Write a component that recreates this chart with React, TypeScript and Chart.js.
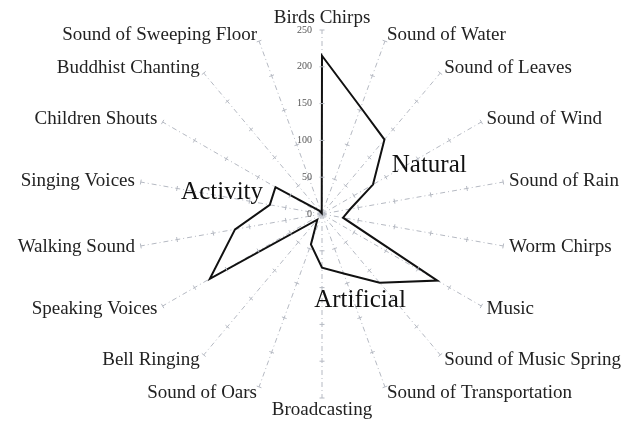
import React, { useEffect, useRef } from "react";
import { Chart, registerables } from "chart.js";

Chart.register(...registerables);

const categories = [
  "Birds Chirps",
  "Sound of Water",
  "Sound of Leaves",
  "Sound of Wind",
  "Sound of Rain",
  "Worm Chirps",
  "Music",
  "Sound of Music Spring",
  "Sound of Transportation",
  "Broadcasting",
  "Sound of Oars",
  "Bell Ringing",
  "Speaking Voices",
  "Walking Sound",
  "Singing Voices",
  "Children Shouts",
  "Buddhist Chanting",
  "Sound of Sweeping Floor",
];

const values = [215, 154, 132, 80, 39, 29, 181, 122, 86, 73, 44, 10, 176, 120, 72, 73, 6, 1];

const tickValues = [0, 50, 100, 150, 200, 250];

const groupLabels = ["Natural", "Artificial", "Activity"];
const groupIndexPos = [3.28, 7.81, 14.12];
const groupValuePos = [160, 128, 139];

// segments (by starting point index) drawn with a heavier stroke
const heavySegments = [2, 3, 4, 11];
const mediumSegments = [6];

const SERIF = "'Liberation Serif', 'Times New Roman', serif";

const labelPlugin = {
  id: "customLabels",
  afterDraw(chart: any) {
    const scale = chart.scales.r;
    const ctx = chart.ctx;
    const cx = scale.xCenter;
    const cy = scale.yCenter;
    const outer = scale.getDistanceFromCenterForValue(scale.max);
    ctx.save();

    // small cross ticks on each spoke
    ctx.strokeStyle = "#b5b9c2";
    ctx.lineWidth = 1;
    ctx.setLineDash([]);
    for (let i = 0; i < categories.length; i++) {
      for (const v of tickValues) {
        if (v === 0) continue;
        const d = scale.getDistanceFromCenterForValue(v);
        const p = scale.getPointPosition(i, d);
        const ang = p.angle;
        const nx = -Math.sin(ang);
        const ny = Math.cos(ang);
        ctx.beginPath();
        ctx.moveTo(p.x - nx * 2.5, p.y - ny * 2.5);
        ctx.lineTo(p.x + nx * 2.5, p.y + ny * 2.5);
        ctx.stroke();
      }
    }

    // tick labels along vertical axis
    ctx.fillStyle = "#555";
    ctx.font = `10px ${SERIF}`;
    ctx.textAlign = "right";
    ctx.textBaseline = "middle";
    for (const v of tickValues) {
      const d = scale.getDistanceFromCenterForValue(v);
      ctx.fillText(String(v), cx - 10, cy - d);
    }

    // point labels
    ctx.fillStyle = "#222";
    ctx.font = `19px ${SERIF}`;
    ctx.textBaseline = "middle";
    const n = categories.length;
    for (let i = 0; i < n; i++) {
      const deg = (i * 360) / n;
      let dist = outer + 6;
      let align: CanvasTextAlign = "left";
      if (deg === 0 || deg === 180) {
        dist = outer + 12;
        align = "center";
      } else if (deg > 180) {
        align = "right";
      }
      const p = scale.getPointPosition(i, dist);
      ctx.textAlign = align;
      ctx.fillText(categories[i], p.x, p.y);
    }

    // group annotations
    ctx.fillStyle = "#111";
    ctx.font = `25px ${SERIF}`;
    ctx.textAlign = "center";
    ctx.textBaseline = "middle";
    for (let g = 0; g < groupLabels.length; g++) {
      const p = scale.getPointPosition(
        groupIndexPos[g],
        scale.getDistanceFromCenterForValue(groupValuePos[g])
      );
      ctx.fillText(groupLabels[g], p.x, p.y);
    }
    ctx.restore();
  },
};

export default function App() {
  const canvasRef = useRef<HTMLCanvasElement | null>(null);

  useEffect(() => {
    document.body.style.margin = "0";
    document.body.style.overflow = "hidden";
    if (!canvasRef.current) return;
    const chart = new Chart(canvasRef.current, {
      type: "radar",
      data: {
        labels: categories,
        datasets: [
          {
            data: values,
            borderColor: "#111",
            borderWidth: 2,
            backgroundColor: "transparent",
            fill: false,
            pointRadius: 0,
            pointHoverRadius: 0,
            tension: 0,
            segment: {
              borderWidth: (ctx: any) =>
                heavySegments.includes(ctx.p0DataIndex)
                  ? 3.5
                  : mediumSegments.includes(ctx.p0DataIndex)
                  ? 2.6
                  : 2,
            },
          } as any,
        ],
      },
      options: {
        animation: false,
        responsive: true,
        maintainAspectRatio: false,
        layout: { padding: { left: 8, right: 0, top: 30, bottom: 23 } },
        plugins: {
          legend: { display: false },
          tooltip: { enabled: false },
        },
        scales: {
          r: {
            min: 0,
            max: 250,
            ticks: { display: false, stepSize: 50 },
            grid: { display: false },
            angleLines: {
              display: true,
              color: "#b5b9c2",
              lineWidth: 1,
              borderDash: [5, 3, 1, 3],
            },
            pointLabels: { display: false },
          },
        },
      },
      plugins: [labelPlugin],
    });
    return () => chart.destroy();
  }, []);

  return (
    <div style={{ width: 636, height: 421, position: "relative" }}>
      <canvas ref={canvasRef} />
    </div>
  );
}
